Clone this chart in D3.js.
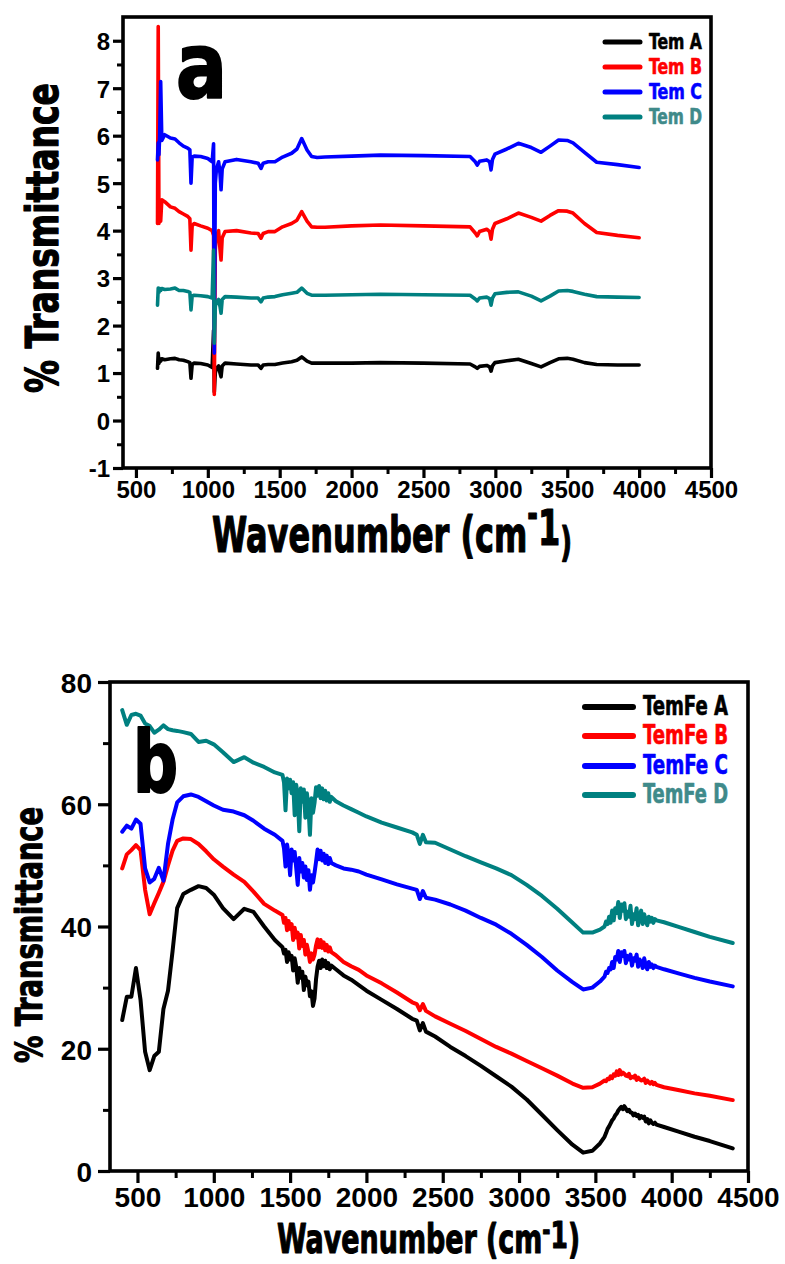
<!DOCTYPE html>
<html>
<head>
<meta charset="utf-8">
<script src="https://cdn.jsdelivr.net/npm/d3@7"></script>
<style>
  html, body { margin: 0; padding: 0; background: #fff; }
  svg { display: block; }
</style>
</head>
<body>
<svg id="chart" width="785" height="1264"></svg>
<script>
// ---------- Panel a: FTIR spectra of the Tem samples (offset traces) ----------
const waveA = [650, 655, 660, 665, 672, 680, 700, 740, 772, 800, 830, 860, 875, 883, 891, 905, 950, 1000, 1030, 1040,
  1045, 1052, 1060, 1075, 1085, 1092, 1100, 1120, 1200, 1300, 1350, 1370, 1385, 1420, 1467, 1520, 1583, 1620, 1653, 1690,
  1722, 1760, 1815, 2000, 2200, 2500, 2824, 2860, 2874, 2890, 2940, 2960, 2970, 2980, 2997, 3080, 3160, 3250, 3318, 3380,
  3440, 3500, 3540, 3620, 3705, 3850, 4000];

const temA = [1.10, 1.42, 1.20, 1.30, 1.25, 1.30, 1.28, 1.30, 1.31, 1.28, 1.27, 1.24, 1.22, 0.89, 1.18, 1.21, 1.20, 1.17, 1.12, 1.90,
  0.60, 1.00, 1.10, 1.15, 1.00, 0.92, 1.15, 1.21, 1.19, 1.17, 1.17, 1.10, 1.17, 1.18, 1.18, 1.21, 1.24, 1.27, 1.34, 1.25,
  1.21, 1.21, 1.21, 1.21, 1.22, 1.21, 1.19, 1.13, 1.10, 1.14, 1.16, 1.13, 1.04, 1.15, 1.22, 1.26, 1.29, 1.20, 1.13, 1.22,
  1.30, 1.31, 1.29, 1.22, 1.18, 1.17, 1.17];

const temB = [4.15, 8.30, 4.15, 4.60, 4.20, 4.65, 4.61, 4.50, 4.47, 4.40, 4.35, 4.30, 4.25, 3.59, 4.10, 4.15, 4.10, 4.05, 4.00, 3.90,
  0.55, 3.60, 3.90, 4.00, 3.60, 3.38, 3.85, 3.98, 4.00, 3.95, 3.94, 3.84, 3.94, 3.98, 3.98, 4.08, 4.15, 4.22, 4.40, 4.20,
  4.08, 4.07, 4.07, 4.10, 4.12, 4.10, 4.08, 3.95, 3.89, 3.98, 4.03, 3.98, 3.82, 4.03, 4.15, 4.25, 4.37, 4.28, 4.20, 4.32,
  4.42, 4.41, 4.37, 4.15, 3.96, 3.90, 3.85];

const temC = [5.49, 5.85, 5.60, 6.00, 7.14, 5.90, 6.02, 5.95, 5.93, 5.85, 5.78, 5.74, 5.70, 5.00, 5.55, 5.57, 5.56, 5.52, 5.45, 5.83,
  1.42, 5.00, 5.30, 5.45, 5.20, 4.86, 5.30, 5.45, 5.50, 5.45, 5.42, 5.31, 5.42, 5.45, 5.45, 5.55, 5.63, 5.72, 5.94, 5.70,
  5.56, 5.54, 5.55, 5.57, 5.59, 5.58, 5.56, 5.45, 5.38, 5.46, 5.49, 5.45, 5.28, 5.50, 5.61, 5.72, 5.84, 5.75, 5.65, 5.78,
  5.91, 5.90, 5.85, 5.65, 5.44, 5.39, 5.33];

const temD = [2.43, 2.79, 2.70, 2.78, 2.74, 2.78, 2.76, 2.77, 2.79, 2.74, 2.74, 2.72, 2.70, 2.33, 2.62, 2.64, 2.63, 2.61, 2.58, 3.59,
  1.63, 2.40, 2.50, 2.55, 2.40, 2.26, 2.55, 2.61, 2.60, 2.58, 2.58, 2.50, 2.58, 2.60, 2.61, 2.65, 2.68, 2.70, 2.79, 2.68,
  2.64, 2.64, 2.64, 2.65, 2.66, 2.65, 2.64, 2.56, 2.52, 2.58, 2.60, 2.57, 2.43, 2.58, 2.67, 2.70, 2.71, 2.62, 2.52, 2.62,
  2.73, 2.74, 2.72, 2.66, 2.61, 2.60, 2.59];

const namesA = ["Tem A", "Tem B", "Tem C", "Tem D"];
const xTicksA = [500, 1000, 1500, 2000, 2500, 3000, 3500, 4000, 4500];
const yTicksA = [-1, 0, 1, 2, 3, 4, 5, 6, 7, 8];

// ---------- Panel b: FTIR spectra of the TemFe samples ----------
const waveB = [400, 430, 460, 490, 520, 550, 580, 610, 640, 670, 700, 730, 760, 800, 850, 900, 950, 1000, 1060, 1130,
  1200, 1260, 1330, 1400,
  1450, 1460, 1470, 1480, 1490, 1500, 1510, 1520, 1530, 1540, 1550, 1560, 1570, 1580, 1590, 1600, 1610, 1620, 1630, 1640,
  1650, 1660, 1670, 1680, 1690, 1700, 1710, 1720, 1730, 1740, 1750, 1760, 1770,
  1800, 1850, 1900, 1950, 2000, 2100, 2200, 2300, 2330, 2350, 2370, 2390, 2450, 2550, 2650, 2750, 2850, 2950, 3050,
  3150, 3250, 3350, 3420, 3480, 3530,
  3560, 3570, 3580, 3590, 3600, 3610, 3620, 3630, 3640, 3650, 3660, 3670, 3680, 3690, 3700, 3710, 3720, 3730, 3740, 3750,
  3760, 3770, 3780, 3790, 3800, 3810, 3820, 3830, 3840, 3850, 3860, 3870, 3880, 3890, 3900,
  3950, 4050, 4150, 4250, 4400];

const temFeA = [24.7, 28.5, 28.5, 33.2, 28.0, 19.5, 16.5, 18.8, 19.5, 26.5, 29.5, 36.0, 43.0, 45.3, 46.0, 46.6, 46.3, 45.2, 43.0, 41.2,
  42.9, 42.4, 40.0, 37.8,
  36.6, 35.6, 36.2, 34.2, 35.8, 34.6, 35.2, 32.8, 34.8, 33.4, 30.8, 33.2, 31.6, 32.6, 29.6, 31.8, 30.4, 31.0, 28.6, 29.4,
  27.0, 28.2, 31.4, 33.4, 34.4, 33.2, 34.6, 33.5, 34.4, 33.2, 34.0, 33.0, 33.6,
  33.0, 32.0, 31.3, 30.4, 29.5, 28.0, 26.5, 24.9, 24.6, 23.0, 24.2, 22.8, 22.0, 20.3, 18.8, 17.2, 15.5, 13.8, 11.7,
  9.2, 6.7, 4.3, 3.0, 3.3, 4.5,
  5.6, 6.2, 6.9, 7.3, 7.8, 8.3, 8.6, 9.1, 9.4, 9.9, 10.2, 10.5, 10.1, 10.6, 10.2, 9.8, 10.0, 9.6, 9.5, 9.1,
  9.4, 9.0, 9.2, 8.6, 9.0, 8.7, 8.9, 8.1, 8.5, 7.8, 8.3, 7.9, 7.7, 7.9, 7.6,
  7.2, 6.4, 5.6, 4.9, 3.7];

const temFeB = [49.5, 51.8, 52.5, 53.3, 52.5, 46.0, 42.0, 43.8, 45.5, 47.3, 50.0, 52.4, 54.0, 54.4, 54.3, 53.5, 52.3, 51.0, 49.8, 48.5,
  47.3, 45.7, 43.7, 42.6,
  41.9, 40.6, 41.4, 39.4, 40.9, 39.6, 40.4, 37.8, 39.8, 38.2, 39.0, 36.4, 38.6, 36.8, 37.8, 35.4, 37.0, 35.8, 34.2, 35.6,
  34.6, 35.4, 36.9, 37.9, 36.6, 37.8, 36.5, 37.4, 36.1, 37.0, 35.9, 36.6, 35.8,
  35.3, 34.2, 33.5, 32.9, 32.0, 30.7, 29.2, 27.6, 27.3, 26.3, 27.3, 26.2, 25.3, 24.1, 22.9, 21.6, 20.3, 19.2, 18.0,
  16.8, 15.6, 14.3, 13.6, 13.7, 14.3,
  14.8, 14.7, 15.1, 15.0, 15.5, 15.2, 15.8, 15.6, 16.3, 15.7, 16.5, 15.8, 16.1, 15.9, 15.6, 15.5, 15.9, 15.2, 15.4, 15.3,
  15.6, 14.9, 15.3, 15.0, 14.8, 14.9, 15.1, 14.4, 14.8, 14.5, 14.3, 14.6, 14.2, 14.4, 14.1,
  13.7, 13.2, 12.7, 12.3, 11.6];

const temFeC = [55.5, 56.5, 56.0, 57.5, 56.8, 49.5, 47.2, 47.8, 49.6, 47.5, 53.5, 57.5, 60.3, 61.3, 61.6, 61.2, 60.5, 59.8, 59.1, 58.8,
  58.2, 57.3, 56.0, 55.0,
  54.0, 52.8, 49.8, 53.4, 51.8, 48.4, 52.6, 50.8, 52.2, 49.6, 46.8, 51.2, 49.0, 50.4, 48.0, 49.8, 47.6, 49.2, 46.0, 48.4,
  47.2, 48.8, 50.6, 52.6, 51.0, 52.4, 50.8, 51.9, 50.4, 51.6, 50.2, 51.2, 50.4,
  50.0, 49.5, 49.3, 49.0, 48.5, 47.7, 46.9, 46.2, 46.0, 44.5, 45.8, 44.7, 44.4, 43.6, 42.6, 41.4, 40.3, 38.8, 37.0,
  35.0, 32.8, 30.9, 29.7, 30.0, 31.0,
  31.8, 32.6, 32.4, 33.2, 33.0, 34.2, 33.2, 35.0, 34.6, 36.0, 34.2, 35.8, 35.2, 36.0, 34.0, 35.2, 34.6, 35.4, 33.6, 34.8,
  34.4, 35.4, 33.4, 34.6, 34.2, 33.2, 34.8, 33.6, 33.0, 34.2, 33.4, 33.8, 33.2, 33.6, 33.4,
  33.0, 32.3, 31.6, 31.0, 30.2];

const temFeD = [75.4, 73.0, 74.6, 74.8, 74.5, 73.2, 72.8, 71.7, 72.2, 72.9, 72.3, 72.1, 72.0, 71.8, 71.5, 70.2, 70.4, 69.8, 68.5, 66.9,
  67.7, 66.8, 66.1, 65.2,
  64.8, 63.6, 59.0, 64.2, 62.6, 64.0, 61.8, 63.6, 58.2, 63.2, 61.4, 55.6, 62.6, 60.4, 62.4, 57.8, 61.8, 59.6, 55.0, 61.0,
  58.6, 60.2, 62.8, 61.4, 63.0, 61.0, 62.6, 60.8, 62.2, 60.6, 61.8, 60.4, 61.2,
  60.5, 59.8, 59.2, 58.6, 58.0, 57.0, 56.2, 55.4, 55.0, 53.5, 55.0, 53.8, 53.7, 52.6, 51.5, 50.5, 49.5, 48.4, 46.8,
  45.0, 42.9, 40.6, 39.0, 39.0, 39.5,
  40.0, 40.8, 40.4, 41.6, 40.6, 42.6, 41.0, 43.0, 42.2, 44.0, 41.4, 43.6, 42.6, 43.8, 41.2, 42.4, 41.6, 43.4, 40.4, 42.0,
  41.2, 43.0, 40.2, 41.6, 42.6, 40.4, 42.0, 41.0, 40.2, 41.6, 40.8, 41.4, 40.6, 41.2, 41.0,
  40.7, 39.9, 39.1, 38.3, 37.3];

const namesB = ["TemFe A", "TemFe B", "TemFe C", "TemFe D"];
const xTicksB = [500, 1000, 1500, 2000, 2500, 3000, 3500, 4000, 4500];
const yTicksB = [0, 20, 40, 60, 80];

const lineColors = ["#000000", "#ff0000", "#0000ff", "#008080"];
const labelColors = ["#000000", "#ff0000", "#0000ff", "#3f8a8a"];

// ---------- drawing ----------
const svg = d3.select("#chart");
const TICK_FONT = "'Liberation Sans', Arial, sans-serif";
const HAND_FONT = "'DejaVu Sans Condensed', 'DejaVu Sans', sans-serif";
const plainInt = d => (d < 0 ? "-" + Math.abs(d) : String(d));

function handText(g, txt, x, y, size, len, color, strokeW, rotate) {
  const t = g.append("text")
    .attr("x", 0).attr("y", 0)
    .attr("transform", `translate(${x},${y})` + (rotate ? ` rotate(${rotate})` : ""))
    .attr("font-family", HAND_FONT)
    .attr("font-weight", "bold")
    .attr("font-size", size)
    .attr("fill", color)
    .attr("stroke", color)
    .attr("stroke-width", strokeW)
    .attr("stroke-linejoin", "round")
    .text(txt);
  if (len) t.attr("textLength", len).attr("lengthAdjust", "spacingAndGlyphs");
  return t;
}

// "Wavenumber (cm-1)" as one text element, squeezed horizontally to a given width
function wavenumberTitle(g, x, y, width, o) {
  const t = g.append("text")
    .attr("x", 0).attr("y", 0)
    .attr("font-family", HAND_FONT)
    .attr("font-weight", "bold")
    .attr("fill", "#000").attr("stroke", "#000")
    .attr("stroke-width", o.sw).attr("stroke-linejoin", "round");
  t.append("tspan").attr("font-size", o.main).text("Wavenumber (cm");
  t.append("tspan").attr("font-size", o.dash).attr("dy", o.dashDy).text("-");
  t.append("tspan").attr("font-size", o.one).attr("dy", o.oneDy).text("1");
  t.append("tspan").attr("font-size", o.paren).attr("dy", o.parenDy).text(")");
  const w = t.node().getBBox().width;
  t.attr("transform", `translate(${x},${y}) scale(${width / w},1)`);
  return t;
}

function drawPanel(cfg) {
  const g = svg.append("g");
  const x = d3.scaleLinear().domain(cfg.xDomain).range([cfg.left, cfg.right]);
  const y = d3.scaleLinear().domain(cfg.yDomain).range([cfg.bottom, cfg.top]);

  // minor ticks
  g.append("g")
    .attr("transform", `translate(0,${cfg.bottom})`)
    .call(d3.axisBottom(x).tickValues(cfg.xMinor).tickSize(cfg.minorLen).tickFormat(""))
    .call(s => s.select(".domain").remove())
    .call(s => s.selectAll("line").attr("stroke-width", 3));
  g.append("g")
    .attr("transform", `translate(${cfg.left},0)`)
    .call(d3.axisLeft(y).tickValues(cfg.yMinor).tickSize(cfg.minorLen).tickFormat(""))
    .call(s => s.select(".domain").remove())
    .call(s => s.selectAll("line").attr("stroke-width", 3));

  // major ticks + labels
  const xa = g.append("g")
    .attr("transform", `translate(0,${cfg.bottom})`)
    .call(d3.axisBottom(x).tickValues(cfg.xTicks).tickSize(cfg.majorLen).tickPadding(cfg.xPad).tickFormat(plainInt));
  const ya = g.append("g")
    .attr("transform", `translate(${cfg.left},0)`)
    .call(d3.axisLeft(y).tickValues(cfg.yTicks).tickSize(cfg.majorLen).tickPadding(cfg.yPad).tickFormat(plainInt));
  [xa, ya].forEach(a => {
    a.select(".domain").remove();
    a.selectAll("line").attr("stroke-width", 3.2);
    a.selectAll("text")
      .attr("font-family", TICK_FONT)
      .attr("font-weight", "bold")
      .attr("font-size", cfg.tickFont)
      .attr("fill", "#000");
  });
  ya.selectAll("text").attr("dy", "0.37em");

  // spectra
  const line = d3.line().x(d => x(d[0])).y(d => y(d[1]));
  cfg.series.forEach((vals, i) => {
    g.append("path")
      .datum(d3.zip(cfg.wave, vals))
      .attr("d", line)
      .attr("fill", "none")
      .attr("stroke", lineColors[i])
      .attr("stroke-width", cfg.lineW)
      .attr("stroke-linejoin", "round")
      .attr("stroke-linecap", "round");
  });

  // frame
  g.append("rect")
    .attr("x", cfg.left).attr("y", cfg.top)
    .attr("width", cfg.right - cfg.left).attr("height", cfg.bottom - cfg.top)
    .attr("fill", "none").attr("stroke", "#000").attr("stroke-width", 3.6);

  // legend
  cfg.names.forEach((name, i) => {
    const ly = cfg.legY[i];
    g.append("line")
      .attr("x1", cfg.legX1).attr("x2", cfg.legX2)
      .attr("y1", ly).attr("y2", ly)
      .attr("stroke", lineColors[i]).attr("stroke-width", cfg.legW)
      .attr("stroke-linecap", "round");
    handText(g, name, cfg.legTextX, ly + cfg.legBase, cfg.legFont, cfg.legLen, labelColors[i], 0.6);
  });

  return g;
}

// Panel a
const ga = drawPanel({
  xDomain: [410, 4500], yDomain: [-1, 8.5],
  left: 123, right: 711, top: 17, bottom: 468,
  xTicks: xTicksA, yTicks: yTicksA,
  xMinor: d3.range(750, 4500, 500), yMinor: d3.range(-0.5, 8.5, 1),
  majorLen: 10, minorLen: 6, xPad: 3, yPad: 3, tickFont: 24,
  wave: waveA, series: [temA, temB, temC, temD], lineW: 3.6,
  names: namesA, legY: [42, 67, 92, 117], legX1: 605, legX2: 640, legW: 5,
  legTextX: 649, legBase: 6.5, legFont: 22, legLen: 53
});
handText(ga, "a", 176, 98, 90, 51, "#000", 2);
handText(ga, "% Transmittance", 58, 393, 44, 310, "#000", 1.2, -90);
wavenumberTitle(ga, 212, 552, 360, {
  main: 50, dash: 40, dashDy: -24, one: 50, oneDy: 17, paren: 40, parenDy: 11, sw: 1.2
});

// Panel b
const gb = drawPanel({
  xDomain: [320, 4500], yDomain: [0, 80],
  left: 110, right: 748, top: 682, bottom: 1171,
  xTicks: xTicksB, yTicks: yTicksB,
  xMinor: d3.range(750, 4500, 500), yMinor: d3.range(10, 80, 20),
  majorLen: 12, minorLen: 7, xPad: 4, yPad: 6, tickFont: 28,
  wave: waveB, series: [temFeA, temFeB, temFeC, temFeD], lineW: 4,
  names: namesB, legY: [707, 736, 766, 795], legX1: 585, legX2: 633, legW: 6,
  legTextX: 643, legBase: 7.5, legFont: 26, legLen: 85
});
handText(gb, "b", 133, 792, 86, 45, "#000", 2);
handText(gb, "% Transmittance", 42, 1063, 38, 256, "#000", 1.1, -90);
wavenumberTitle(gb, 277, 1253, 303, {
  main: 41, dash: 30, dashDy: -12, one: 38, oneDy: 7, paren: 40, parenDy: 5, sw: 1.1
});
</script>
</body>
</html>
